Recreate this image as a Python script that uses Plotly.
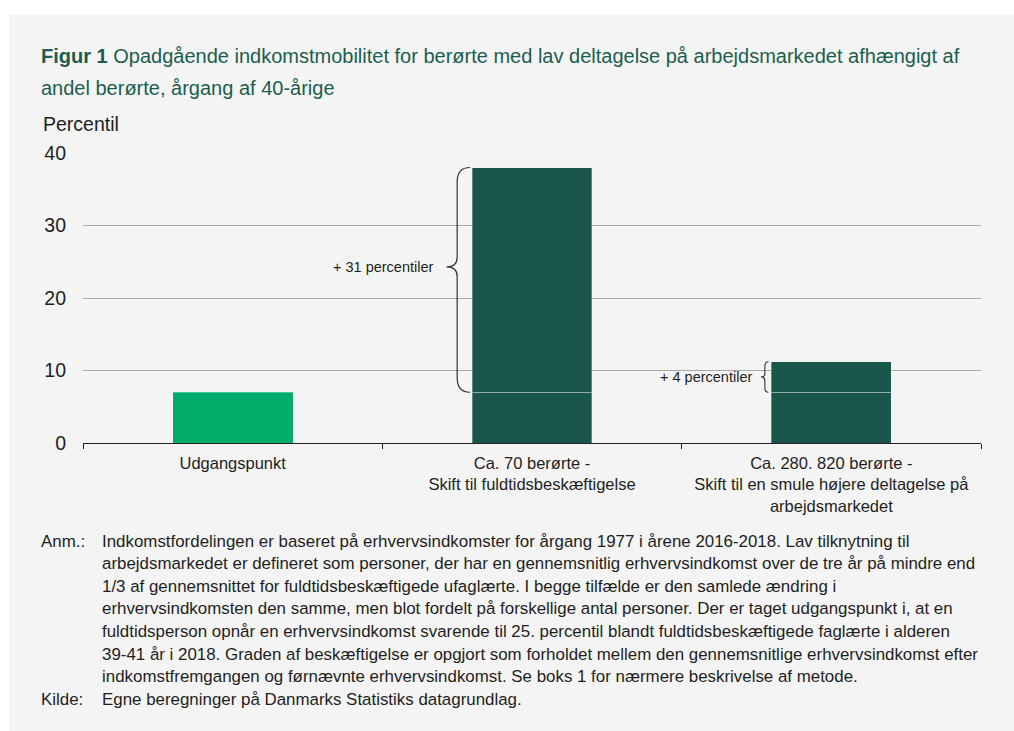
import plotly.graph_objects as go

# ---------------- data ----------------
categories = [
    "Udgangspunkt",
    "Ca. 70 berørte -<br>Skift til fuldtidsbeskæftigelse",
    "Ca. 280. 820 berørte -<br>Skift til en smule højere deltagelse på<br>arbejdsmarkedet",
]
base_values = [7.0, 7.0, 7.0]
increase_values = [0.0, 31.0, 4.2]
increase_labels = ["", "+ 31 percentiler", "+ 4 percentiler"]
y_ticks = [0, 10, 20, 30, 40]

title_lines = [
    "<b>Figur 1</b> Opadgående indkomstmobilitet for berørte med lav deltagelse på arbejdsmarkedet afhængigt af",
    "andel berørte, årgang af 40-årige",
]
note_label = "Anm.:"
note_lines = [
    "Indkomstfordelingen er baseret på erhvervsindkomster for årgang 1977 i årene 2016-2018. Lav tilknytning til",
    "arbejdsmarkedet er defineret som personer, der har en gennemsnitlig erhvervsindkomst over de tre år på mindre end",
    "1/3 af gennemsnittet for fuldtidsbeskæftigede ufaglærte. I begge tilfælde er den samlede ændring i",
    "erhvervsindkomsten den samme, men blot fordelt på forskellige antal personer. Der er taget udgangspunkt i, at en",
    "fuldtidsperson opnår en erhvervsindkomst svarende til 25. percentil blandt fuldtidsbeskæftigede faglærte i alderen",
    "39-41 år i 2018. Graden af beskæftigelse er opgjort som forholdet mellem den gennemsnitlige erhvervsindkomst efter",
    "indkomstfremgangen og førnævnte erhvervsindkomst. Se boks 1 for nærmere beskrivelse af metode.",
]
source_label = "Kilde:"
source_text = "Egne beregninger på Danmarks Statistiks datagrundlag."

# ---------------- style ----------------
FONT = "Liberation Sans, Arial, sans-serif"
DARK = "#1a564c"
BRIGHT = "#00ac69"
TITLE_C = "#1b5e50"
TEXT_C = "#1e1e1e"
PANEL = "#f4f4f4"

W, H = 1014, 731
L, R, T, B = 83, 981, 153, 443  # plot area in pixels


def px(x):
    return (x - L) / (R - L)


def py(y):
    return (B - y) / (B - T)


fig = go.Figure()
fig.add_trace(go.Bar(
    x=categories, y=base_values, width=0.4,
    marker=dict(color=[BRIGHT, DARK, DARK], line=dict(width=[0, 1, 1], color="rgba(255,255,255,0.3)")),
    hoverinfo="skip", showlegend=False,
))
fig.add_trace(go.Bar(
    x=categories, y=increase_values, width=0.4,
    marker=dict(color=DARK, line=dict(width=1, color="rgba(255,255,255,0.3)")),
    hoverinfo="skip", showlegend=False,
))

shapes = [dict(type="rect", xref="paper", yref="paper", layer="below",
               x0=px(9), x1=px(W + 5), y0=py(H + 5), y1=py(15),
               fillcolor=PANEL, line=dict(width=0))]


def brace(i, y0, y1, ym, xr, xm, xt, d, dm):
    return (f"M {i - xr},{y1} Q {i - xm},{y1} {i - xm},{y1 - d} "
            f"L {i - xm},{ym + dm} Q {i - xm},{ym} {i - xt},{ym} "
            f"Q {i - xm},{ym} {i - xm},{ym - dm} "
            f"L {i - xm},{y0 + d} Q {i - xm},{y0} {i - xr},{y0}")


annotations = []
# big brace for category 1
b1, t1 = base_values[1], base_values[1] + increase_values[1]
tip1 = 24.3
shapes.append(dict(type="path", xref="x", yref="y",
                   path=brace(1, b1, t1, tip1, 0.207, 0.25, 0.285, 2.0, 1.3),
                   line=dict(color="#333333", width=1.2)))
annotations.append(dict(x=1 - 0.322, y=tip1, xref="x", yref="y", text=increase_labels[1],
                        showarrow=False, xanchor="right", yanchor="middle",
                        font=dict(family=FONT, size=14.5, color=TEXT_C)))
# small brace for category 2
b2, t2 = base_values[2], base_values[2] + increase_values[2]
tip2 = (b2 + t2) / 2
shapes.append(dict(type="path", xref="x", yref="y",
                   path=brace(2, b2, t2, tip2, 0.21, 0.222, 0.235, 0.6, 0.5),
                   line=dict(color="#333333", width=1.1)))
annotations.append(dict(x=2 - 0.258, y=tip2, xref="x", yref="y", text=increase_labels[2],
                        showarrow=False, xanchor="right", yanchor="middle",
                        font=dict(family=FONT, size=14.5, color=TEXT_C)))

# title
for k, (line, ypix) in enumerate(zip(title_lines, [56, 88])):
    annotations.append(dict(x=px(39), y=py(ypix), xref="paper", yref="paper", text=line,
                            showarrow=False, xanchor="left", yanchor="middle",
                            font=dict(family=FONT, size=20, color=TITLE_C)))
# y-axis title
annotations.append(dict(x=px(41), y=py(124), xref="paper", yref="paper", text="Percentil",
                        showarrow=False, xanchor="left", yanchor="middle",
                        font=dict(family=FONT, size=19.5, color=TEXT_C)))
# footnotes
NOTE_SIZE = 16.9
note_y0, note_dy = 541, 22.65
annotations.append(dict(x=px(39), y=py(note_y0), xref="paper", yref="paper", text=note_label,
                        showarrow=False, xanchor="left", yanchor="middle",
                        font=dict(family=FONT, size=NOTE_SIZE, color=TEXT_C)))
for k, line in enumerate(note_lines):
    annotations.append(dict(x=px(100), y=py(note_y0 + k * note_dy), xref="paper", yref="paper",
                            text=line, showarrow=False, xanchor="left", yanchor="middle",
                            font=dict(family=FONT, size=NOTE_SIZE, color=TEXT_C)))
ks = note_y0 + len(note_lines) * note_dy
annotations.append(dict(x=px(39), y=py(ks), xref="paper", yref="paper", text=source_label,
                        showarrow=False, xanchor="left", yanchor="middle",
                        font=dict(family=FONT, size=NOTE_SIZE, color=TEXT_C)))
annotations.append(dict(x=px(100), y=py(ks), xref="paper", yref="paper", text=source_text,
                        showarrow=False, xanchor="left", yanchor="middle",
                        font=dict(family=FONT, size=NOTE_SIZE, color=TEXT_C)))

fig.update_layout(
    width=W, height=H,
    margin=dict(l=L, r=W - R, t=T, b=H - B, pad=0),
    paper_bgcolor="white", plot_bgcolor="rgba(0,0,0,0)",
    barmode="stack", bargap=0.6,
    font=dict(family=FONT, color=TEXT_C),
    shapes=shapes, annotations=annotations,
    xaxis=dict(type="category", range=[-0.5, 2.5], tickson="boundaries",
               ticks="outside", ticklen=5, tickcolor="#222222", tickwidth=1,
               showline=True, linecolor="#222222", linewidth=1.2,
               showgrid=False, zeroline=False, ticklabelstandoff=5,
               tickfont=dict(family=FONT, size=16.5, color=TEXT_C)),
    yaxis=dict(range=[0, 40], tickvals=y_ticks, showgrid=True, gridcolor="#a8a8a8",
               gridwidth=1, zeroline=False, ticks="", showline=False,
               ticklabelstandoff=16,
               tickfont=dict(family=FONT, size=19.5, color=TEXT_C)),
)

fig.write_html("out.html", config={"displayModeBar": False},
               post_script="document.body.style.margin='0px';")
